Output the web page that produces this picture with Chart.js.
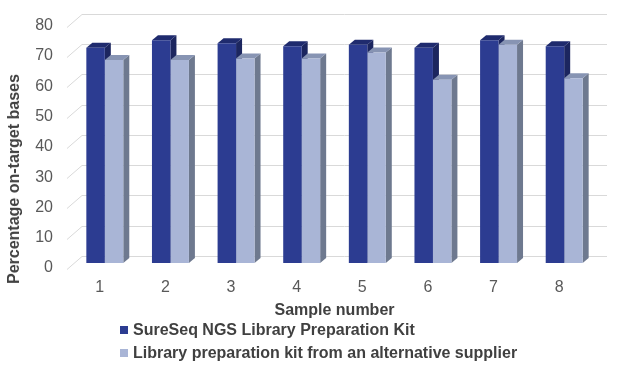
<!DOCTYPE html>
<html>
<head>
<meta charset="utf-8">
<script src="https://cdn.jsdelivr.net/npm/chart.js@4"></script>
<style>
  body { margin: 0; background: #fff; }
  #wrap { position: relative; width: 631px; height: 374px; font-family: "Liberation Sans", Arial, sans-serif; }
  #yTitle {
    position: absolute; left: 14px; top: 179px;
    transform: translate(-50%, -50%) rotate(-90deg);
    white-space: nowrap; font-weight: bold; font-size: 16px; color: #404040;
  }
  .leg { position: absolute; left: 120px; font-weight: bold; font-size: 16px; color: #404040; white-space: nowrap; line-height: 18px; }
  .leg span.box { display: inline-block; width: 8px; height: 8px; margin-right: 5px; vertical-align: 1px; }
</style>
</head>
<body>
<div id="wrap">
  <canvas id="myChart" width="631" height="374"></canvas>
  <div id="yTitle">Percentage on-target bases</div>
  <div class="leg" style="top:321px"><span class="box" style="background:#2c3c91"></span>SureSeq NGS Library Preparation Kit</div>
  <div class="leg" style="top:344px"><span class="box" style="background:#a9b5d6"></span>Library preparation kit from an alternative supplier</div>
</div>
<script>
// Data
let samples = ['1', '2', '3', '4', '5', '6', '7', '8'];
let sureSeq = [71, 73.5, 72.5, 71.5, 72, 71, 73.5, 71.5];
let altSupplier = [67, 67, 67.5, 67.5, 69.5, 60.5, 72, 61];
let yTicks = [0, 10, 20, 30, 40, 50, 60, 70, 80];

// Colours for the fake 3D look: front, top, side
let darkFaces = ['#2c3c91', '#1f2b6e', '#1c265f'];
let lightFaces = ['#a9b5d6', '#8794b3', '#6e798f'];

// Back wall gridlines + diagonal ticks, then top/side faces of the bars
const threeD = {
    id: 'threeD',
    beforeDatasetsDraw(chart) {
        const ctx = chart.ctx;
        const area = chart.chartArea;
        const y = chart.scales.y;
        ctx.save();
        ctx.strokeStyle = '#d9d9d9';
        ctx.lineWidth = 1;
        yTicks.forEach(v => {
            let yb = Math.round(y.getPixelForValue(v) - 7) + 0.5;
            ctx.beginPath();
            ctx.moveTo(area.left - 5, yb + 13);
            ctx.lineTo(area.left + 10, yb);
            ctx.lineTo(area.right + 10, yb);
            ctx.stroke();
        });

        const dx = 6, dy = 5;
        chart.data.datasets.forEach((ds, i) => {
            let faces = i === 0 ? darkFaces : lightFaces;
            chart.getDatasetMeta(i).data.forEach(bar => {
                let l = bar.x - bar.width / 2, r = bar.x + bar.width / 2;
                // side
                ctx.fillStyle = faces[2];
                ctx.beginPath();
                ctx.moveTo(r, bar.y);
                ctx.lineTo(r + dx, bar.y - dy);
                ctx.lineTo(r + dx, bar.base - dy);
                ctx.lineTo(r, bar.base);
                ctx.closePath();
                ctx.fill();
                // top
                ctx.fillStyle = faces[1];
                ctx.beginPath();
                ctx.moveTo(l, bar.y);
                ctx.lineTo(l + dx, bar.y - dy);
                ctx.lineTo(r + dx, bar.y - dy);
                ctx.lineTo(r, bar.y);
                ctx.closePath();
                ctx.fill();
            });
        });
        ctx.restore();
    }
};

const ctx = document.getElementById('myChart').getContext('2d');
const myChart = new Chart(ctx, {
    type: 'bar',
    data: {
        labels: samples,
        datasets: [{
            label: 'SureSeq NGS Library Preparation Kit',
            data: sureSeq,
            backgroundColor: darkFaces[0]
        }, {
            label: 'Library preparation kit from an alternative supplier',
            data: altSupplier,
            backgroundColor: lightFaces[0]
        }]
    },
    options: {
        responsive: false,
        animation: false,
        layout: { padding: { top: 10, right: 34, bottom: 0, left: 0 } },
        datasets: { bar: { categoryPercentage: 0.563, barPercentage: 1 } },
        plugins: { legend: { display: false }, tooltip: { enabled: false } },
        scales: {
            x: {
                grid: { display: false },
                border: { display: false },
                ticks: {
                    padding: 7,
                    labelOffset: -5,
                    color: '#595959',
                    font: { family: '"Liberation Sans", Arial', size: 16 }
                },
                title: {
                    display: true,
                    text: 'Sample number',
                    color: '#404040',
                    font: { family: '"Liberation Sans", Arial', size: 16, weight: 'bold' },
                    padding: { top: 0, bottom: 54 }
                },
                afterFit(scale) { scale.height = 111; }
            },
            y: {
                min: 0,
                max: 80,
                afterBuildTicks(scale) { scale.ticks = yTicks.map(v => ({ value: v })); },
                grid: { display: false },
                border: { display: false },
                ticks: {
                    padding: 11,
                    labelOffset: 5,
                    color: '#595959',
                    font: { family: '"Liberation Sans", Arial', size: 16 }
                },
                afterFit(scale) { scale.width = 72; }
            }
        }
    },
    plugins: [threeD]
});
</script>
</body>
</html>
